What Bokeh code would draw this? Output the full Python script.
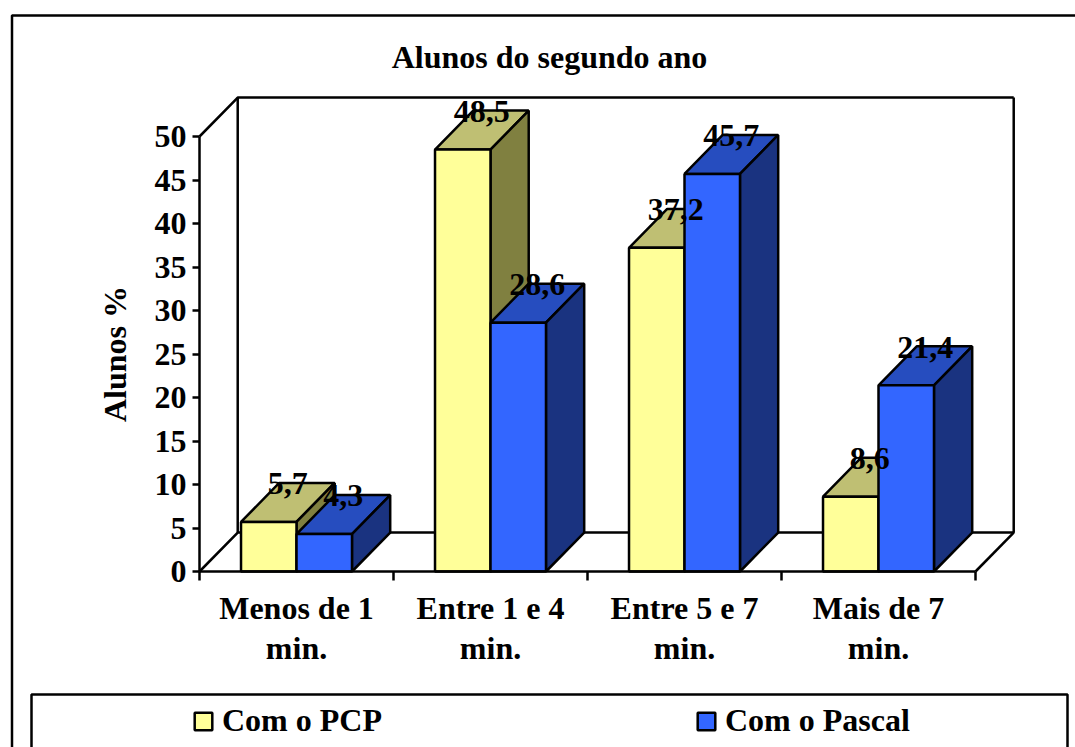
from bokeh.embed import file_html
from bokeh.resources import INLINE
from bokeh.core.properties import value
from bokeh.models import (BoxAnnotation, FixedTicker, Legend, LegendItem,
                          LinearAxis, Range1d)
from bokeh.plotting import figure

title = "Alunos do segundo ano"
y_title = "Alunos %"
categories = ["Menos de 1\nmin.", "Entre 1 e 4\nmin.", "Entre 5 e 7\nmin.", "Mais de 7\nmin."]
series_names = ["Com o PCP", "Com o Pascal"]
pcp = [5.7, 48.5, 37.2, 8.6]
pascal = [4.3, 28.6, 45.7, 21.4]
y_ticks = [0, 5, 10, 15, 20, 25, 30, 35, 40, 45, 50]

FONT = "Liberation Serif"
SIZE = "32px"
LW = 2.5
W, H = 1075, 747
X0, Y0 = 199, 571      # page position of the axes' origin
PX_X, PX_Y = 194, 8.7  # pixels per category and per percent
BAR_W = 0.286          # width of one bar, in category units
DX, DY = 0.197, 4.48   # oblique depth of the 3D box, in axis units

face = [("#FFFF99", "#BFBF73", "#808040"), ("#3366FF", "#264DBF", "#1A3380")]

p = figure(width=W, height=H, output_backend="svg", toolbar_location=None,
           x_range=Range1d(-X0 / PX_X, (W - X0) / PX_X),
           y_range=Range1d((Y0 - H) / PX_Y, Y0 / PX_Y),
           x_axis_location=None, y_axis_location=None,
           min_border=0, outline_line_color=None, background_fill_color=None)
p.grid.visible = False

# Chart box and legend box; both run past the page's lower edge
for left, right, top in [(11.5, W + 20, 15), (31, 1067, 694)]:
    p.add_layout(BoxAnnotation(left=left, right=right, top=H - top, bottom=-30,
                               left_units="screen", right_units="screen",
                               top_units="screen", bottom_units="screen",
                               fill_color=None, line_color="black", line_alpha=1,
                               line_width=LW, level="underlay"))

# Axes pinned to the origin of the plot
yax = LinearAxis(ticker=FixedTicker(ticks=y_ticks), bounds=(0, 50), fixed_location=0,
                 axis_label=y_title,
                 axis_line_color="black", axis_line_width=LW,
                 major_tick_line_color="black", major_tick_line_width=LW,
                 major_tick_in=0, major_tick_out=7, minor_tick_line_color=None,
                 major_label_standoff=6, major_label_text_font=FONT,
                 major_label_text_font_size=SIZE, major_label_text_font_style="bold",
                 major_label_text_color="black",
                 axis_label_text_font=FONT, axis_label_text_font_size=SIZE,
                 axis_label_text_font_style="bold", axis_label_text_color="black",
                 axis_label_standoff=19)
p.add_layout(yax, "left")

centers = [i + 0.5 for i in range(len(categories))]
xax = LinearAxis(ticker=FixedTicker(ticks=centers, minor_ticks=list(range(len(categories) + 1))),
                 major_label_overrides=dict(zip(centers, categories)), bounds=(0, 4),
                 fixed_location=0,
                 axis_line_color="black", axis_line_width=LW,
                 major_tick_line_color=None, major_tick_in=0, major_tick_out=0,
                 minor_tick_line_color="black", minor_tick_line_width=LW,
                 minor_tick_in=0, minor_tick_out=9,
                 major_label_standoff=9, major_label_text_font=FONT,
                 major_label_text_line_height=1.12,
                 major_label_text_font_size=SIZE, major_label_text_font_style="bold",
                 major_label_text_color="black")
p.add_layout(xax, "below")

# Chart title
p.text(x=[(549 - X0) / PX_X], y=[(Y0 - 56) / PX_Y], text=[title],
       text_align="center", text_baseline="middle", text_color="black",
       text_font=value(FONT), text_font_size=SIZE, text_font_style="bold")

# Back walls and floor of the 3D box
n = len(categories)
p.multi_line(xs=[[0, DX, n + DX], [DX, DX], [0, DX, n + DX, n + DX], [n, n + DX]],
             ys=[[50, 50 + DY, 50 + DY], [DY, 50 + DY], [0, DY, DY, 50 + DY], [0, DY]],
             line_color="black", line_width=LW)

# Bars: per series a top and side face, then the front
legend_items = []
for s, (name, vals) in enumerate(zip(series_names, [pcp, pascal])):
    x0 = [c - BAR_W + s * BAR_W for c in centers]
    x1 = [a + BAR_W for a in x0]
    front, top, side = face[s]
    p.patches(xs=[[a, a + DX, b + DX, b] for a, b in zip(x0, x1)],
              ys=[[v, v + DY, v + DY, v] for v in vals],
              fill_color=top, line_color="black", line_width=LW)
    p.patches(xs=[[b, b + DX, b + DX, b] for b in x1],
              ys=[[0, DY, v + DY, v] for v in vals],
              fill_color=side, line_color="black", line_width=LW)
    r = p.quad(left=x0, right=x1, bottom=[0] * n, top=vals,
               fill_color=front, line_color="black", line_width=LW)
    legend_items.append(LegendItem(label=name, renderers=[r]))

# Value labels at the back edge of each bar top
for s, vals in enumerate([pcp, pascal]):
    p.text(x=[c - BAR_W / 2 + s * BAR_W + DX / 2 for c in centers],
           y=[v + DY - 0.1 for v in vals],
           text=[f"{v:.1f}".replace(".", ",") for v in vals],
           text_align="center", text_baseline="middle", text_color="black",
           text_font=value(FONT), text_font_size=SIZE, text_font_style="bold")

legend = Legend(items=legend_items, orientation="horizontal", location=(192, 8),
                border_line_color=None, background_fill_color=None, padding=0, margin=0,
                spacing=313, glyph_width=22, glyph_height=22, label_standoff=8,
                label_text_font=FONT, label_text_font_size=SIZE,
                label_text_font_style="bold", label_text_color="black")
p.add_layout(legend)

open("out.html", "w").write(file_html(p, INLINE))
